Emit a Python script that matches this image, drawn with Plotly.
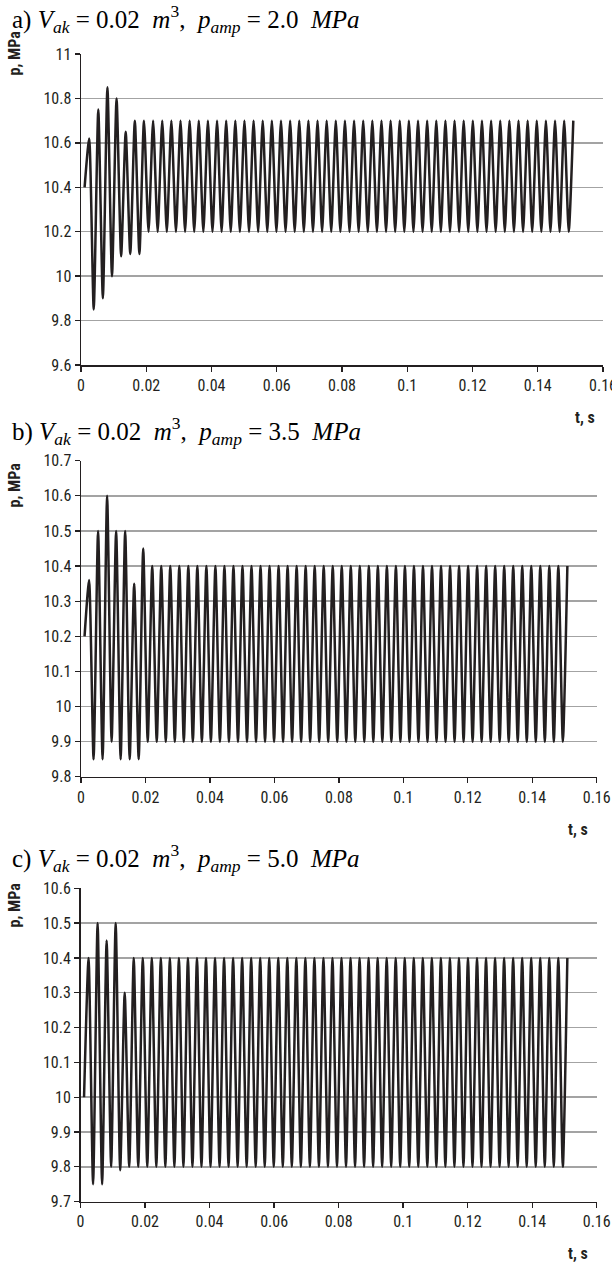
import plotly.graph_objects as go

# ---------------- data ----------------
# sample times of the plotted turning points (s)
t = [0.0011, 0.0025, 0.0039, 0.0053, 0.0067, 0.0081, 0.0095, 0.0109, 0.0123, 0.0137,
     0.0151, 0.0165, 0.0179, 0.0193, 0.0207, 0.0221, 0.0235, 0.0249, 0.0263, 0.0277,
     0.0291, 0.0305, 0.0319, 0.0333, 0.0347, 0.0361, 0.0375, 0.0389, 0.0403, 0.0417,
     0.0431, 0.0445, 0.0459, 0.0473, 0.0487, 0.0501, 0.0515, 0.0529, 0.0543, 0.0557,
     0.0571, 0.0585, 0.0599, 0.0613, 0.0627, 0.0641, 0.0655, 0.0669, 0.0683, 0.0697,
     0.0711, 0.0725, 0.0739, 0.0753, 0.0767, 0.0781, 0.0795, 0.0809, 0.0823, 0.0837,
     0.0851, 0.0865, 0.0879, 0.0893, 0.0907, 0.0921, 0.0935, 0.0949, 0.0963, 0.0977,
     0.0991, 0.1005, 0.1019, 0.1033, 0.1047, 0.1061, 0.1075, 0.1089, 0.1103, 0.1117,
     0.1131, 0.1145, 0.1159, 0.1173, 0.1187, 0.1201, 0.1215, 0.1229, 0.1243, 0.1257,
     0.1271, 0.1285, 0.1299, 0.1313, 0.1327, 0.1341, 0.1355, 0.1369, 0.1383, 0.1397,
     0.1411, 0.1425, 0.1439, 0.1453, 0.1467, 0.1481, 0.1495, 0.1509]

# a) p_amp = 2.0 MPa
p_a = [10.40, 10.62, 9.85, 10.75, 9.90, 10.85, 10.00, 10.80, 10.09, 10.65, 10.10, 10.70, 10.10, 10.70, 10.20,
       10.70, 10.20, 10.70, 10.20, 10.70, 10.20, 10.70, 10.20, 10.70, 10.20, 10.70, 10.20, 10.70, 10.20, 10.70, 10.20, 10.70, 10.20, 10.70, 10.20,
       10.70, 10.20, 10.70, 10.20, 10.70, 10.20, 10.70, 10.20, 10.70, 10.20, 10.70, 10.20, 10.70, 10.20, 10.70, 10.20, 10.70, 10.20, 10.70, 10.20,
       10.70, 10.20, 10.70, 10.20, 10.70, 10.20, 10.70, 10.20, 10.70, 10.20, 10.70, 10.20, 10.70, 10.20, 10.70, 10.20, 10.70, 10.20, 10.70, 10.20,
       10.70, 10.20, 10.70, 10.20, 10.70, 10.20, 10.70, 10.20, 10.70, 10.20, 10.70, 10.20, 10.70, 10.20, 10.70, 10.20, 10.70, 10.20, 10.70, 10.20,
       10.70, 10.20, 10.70, 10.20, 10.70, 10.20, 10.70, 10.20, 10.70, 10.20, 10.70, 10.20,
       10.70]

# b) p_amp = 3.5 MPa
p_b = [10.20, 10.36, 9.85, 10.50, 9.85, 10.60, 9.90, 10.50, 9.85, 10.50, 9.85, 10.35, 9.85, 10.45, 9.90,
       10.40, 9.90, 10.40, 9.90, 10.40, 9.90, 10.40, 9.90, 10.40, 9.90, 10.40, 9.90, 10.40, 9.90, 10.40, 9.90, 10.40, 9.90, 10.40, 9.90,
       10.40, 9.90, 10.40, 9.90, 10.40, 9.90, 10.40, 9.90, 10.40, 9.90, 10.40, 9.90, 10.40, 9.90, 10.40, 9.90, 10.40, 9.90, 10.40, 9.90,
       10.40, 9.90, 10.40, 9.90, 10.40, 9.90, 10.40, 9.90, 10.40, 9.90, 10.40, 9.90, 10.40, 9.90, 10.40, 9.90, 10.40, 9.90, 10.40, 9.90,
       10.40, 9.90, 10.40, 9.90, 10.40, 9.90, 10.40, 9.90, 10.40, 9.90, 10.40, 9.90, 10.40, 9.90, 10.40, 9.90, 10.40, 9.90, 10.40, 9.90,
       10.40, 9.90, 10.40, 9.90, 10.40, 9.90, 10.40, 9.90, 10.40, 9.90, 10.40, 9.90,
       10.40]

# c) p_amp = 5.0 MPa
p_c = [10.00, 10.40, 9.75, 10.50, 9.75, 10.45, 9.80, 10.50, 9.79, 10.30, 9.80,
       10.40, 9.80, 10.40, 9.80, 10.40, 9.80, 10.40, 9.80, 10.40, 9.80, 10.40, 9.80, 10.40, 9.80, 10.40, 9.80, 10.40, 9.80, 10.40, 9.80,
       10.40, 9.80, 10.40, 9.80, 10.40, 9.80, 10.40, 9.80, 10.40, 9.80, 10.40, 9.80, 10.40, 9.80, 10.40, 9.80, 10.40, 9.80, 10.40, 9.80,
       10.40, 9.80, 10.40, 9.80, 10.40, 9.80, 10.40, 9.80, 10.40, 9.80, 10.40, 9.80, 10.40, 9.80, 10.40, 9.80, 10.40, 9.80, 10.40, 9.80,
       10.40, 9.80, 10.40, 9.80, 10.40, 9.80, 10.40, 9.80, 10.40, 9.80, 10.40, 9.80, 10.40, 9.80, 10.40, 9.80, 10.40, 9.80, 10.40, 9.80,
       10.40, 9.80, 10.40, 9.80, 10.40, 9.80, 10.40, 9.80, 10.40, 9.80, 10.40, 9.80, 10.40, 9.80, 10.40, 9.80,
       10.40]

x_ticks = [0, 0.02, 0.04, 0.06, 0.08, 0.1, 0.12, 0.14, 0.16]
x_labels = ["0", "0.02", "0.04", "0.06", "0.08", "0.1", "0.12", "0.14", "0.16"]
y_ticks_a = [9.6, 9.8, 10, 10.2, 10.4, 10.6, 10.8, 11]
y_labels_a = ["9.6", "9.8", "10", "10.2", "10.4", "10.6", "10.8", "11"]
y_ticks_b = [9.8, 9.9, 10, 10.1, 10.2, 10.3, 10.4, 10.5, 10.6, 10.7]
y_labels_b = ["9.8", "9.9", "10", "10.1", "10.2", "10.3", "10.4", "10.5", "10.6", "10.7"]
y_ticks_c = [9.7, 9.8, 9.9, 10, 10.1, 10.2, 10.3, 10.4, 10.5, 10.6]
y_labels_c = ["9.7", "9.8", "9.9", "10", "10.1", "10.2", "10.3", "10.4", "10.5", "10.6"]

titles = [
    "a) <i>V</i><sub><i>ak</i></sub> = 0.02  <i>m</i><sup>3</sup>,  <i>p</i><sub><i>amp</i></sub> = 2.0  <i>MPa</i>",
    "b) <i>V</i><sub><i>ak</i></sub> = 0.02  <i>m</i><sup>3</sup>,  <i>p</i><sub><i>amp</i></sub> = 3.5  <i>MPa</i>",
    "c) <i>V</i><sub><i>ak</i></sub> = 0.02  <i>m</i><sup>3</sup>,  <i>p</i><sub><i>amp</i></sub> = 5.0  <i>MPa</i>",
]

# ---------------- layout helpers ----------------
W, H = 612, 1263
def px(x):
    return x / W
def py(y):
    return 1 - y / H

INK = "#231f20"
GRID = "#a3a3a3"
NARROW = "Liberation Sans Narrow, Roboto Condensed, DejaVu Sans Condensed, Roboto, sans-serif"
SERIF = "Liberation Serif, Times New Roman, serif"

panels = [
    # (p, yticks, ylabels, yrange, x0, x1, ytop, ybot, title_y, pmpa_top, ts_x, ts_y)
    (p_a, y_ticks_a, y_labels_a, [9.6, 11], 81, 603, 54, 365, 19, 28, 585, 417),
    (p_b, y_ticks_b, y_labels_b, [9.8, 10.7], 81, 596.7, 460.7, 776.8, 431, 460, 578, 829),
    (p_c, y_ticks_c, y_labels_c, [9.7, 10.6], 80.5, 596.7, 888.3, 1201.6, 858, 880, 578, 1253),
]

fig = go.Figure()
annotations = []
layout = {}
for i, (pv, yt, yl, yr, x0, x1, yt_px, yb_px, tit_y, pm_top, ts_x, ts_y) in enumerate(panels):
    n = min(len(t), len(pv))
    suffix = "" if i == 0 else str(i + 1)
    fig.add_trace(go.Scatter(
        x=t[:n], y=pv[:n], mode="lines",
        line=dict(color=INK, width=2.5, shape="spline", smoothing=0.6),
        xaxis="x" + suffix, yaxis="y" + suffix, showlegend=False, hoverinfo="skip",
    ))
    layout["xaxis" + suffix] = dict(
        domain=[px(x0), px(x1)], anchor="y" + suffix, range=[0, 0.16],
        tickvals=x_ticks, ticktext=x_labels, ticks="outside", ticklen=5,
        tickwidth=1.3, tickcolor=INK, showline=True, linecolor=INK, linewidth=1.5,
        showgrid=False, zeroline=False, automargin=False, ticklabeloverflow="allow",
        tickfont=dict(family=NARROW, size=16, color=INK),
    )
    layout["yaxis" + suffix] = dict(
        domain=[py(yb_px), py(yt_px)], anchor="x" + suffix, range=yr,
        tickvals=yt, ticktext=yl, ticks="outside", ticklen=5,
        tickwidth=1.3, tickcolor=INK, showline=True, linecolor=INK, linewidth=1.5,
        showgrid=True, gridcolor=GRID, gridwidth=1.5, zeroline=False, automargin=False,
        tickfont=dict(family=NARROW, size=16, color=INK),
    )
    annotations.append(dict(
        text=titles[i], xref="paper", yref="paper", x=px(10), y=py(tit_y),
        xanchor="left", yanchor="middle", showarrow=False,
        font=dict(family=SERIF, size=25, color="#000000"),
    ))
    annotations.append(dict(
        text="<b>p, MPa</b>", xref="paper", yref="paper", x=px(14), y=py(pm_top),
        xanchor="center", yanchor="top", textangle=-90, showarrow=False,
        font=dict(family=NARROW, size=16, color=INK),
    ))
    annotations.append(dict(
        text="<b>t, s</b>", xref="paper", yref="paper", x=px(ts_x), y=py(ts_y),
        xanchor="center", yanchor="middle", showarrow=False,
        font=dict(family=NARROW, size=16, color=INK),
    ))

fig.update_layout(
    width=W, height=H, margin=dict(l=0, r=0, t=0, b=0, autoexpand=False),
    paper_bgcolor="white", plot_bgcolor="white",
    annotations=annotations, **layout,
)

fig.write_html(
    "out.html",
    config={"displayModeBar": False, "staticPlot": True},
    post_script="document.body.style.margin='0px';document.body.style.overflow='hidden';",
)
